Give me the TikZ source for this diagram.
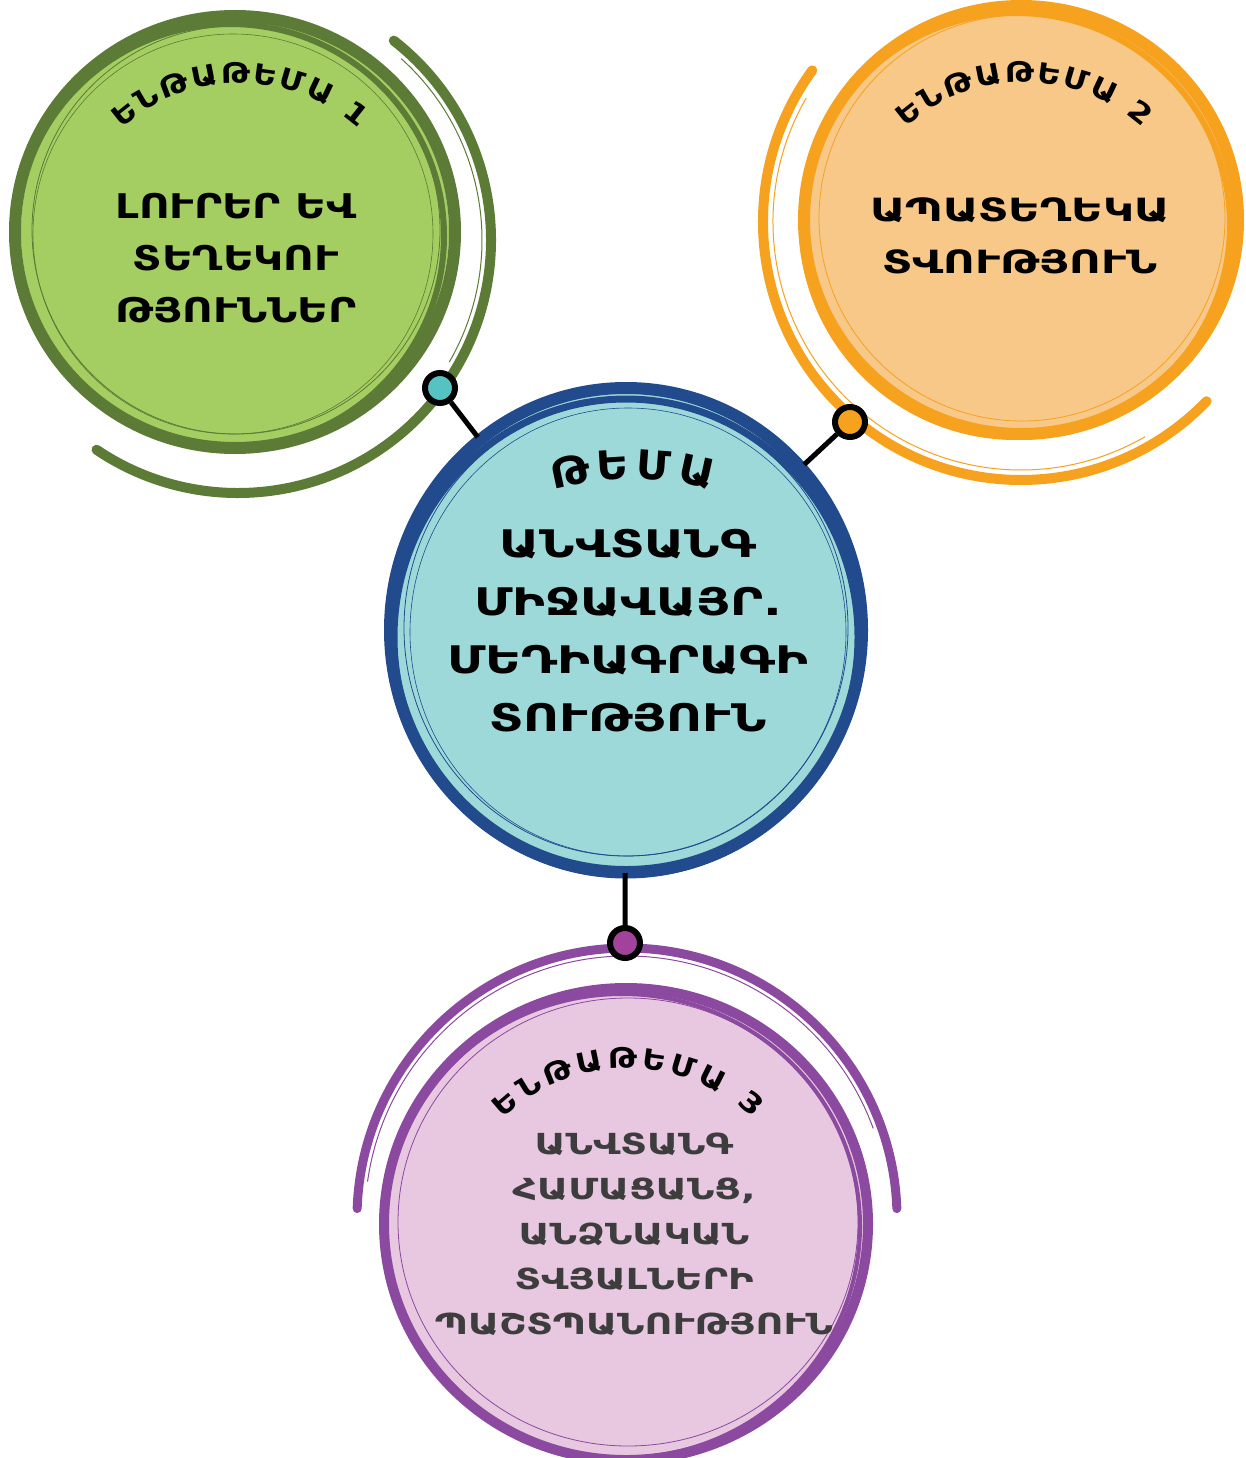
\documentclass[tikz,border=0pt]{standalone}
\usepackage{fontspec}
\setmainfont{DejaVu Sans}
\usetikzlibrary{decorations.text}
\definecolor{gfill}{HTML}{A4CE62}
\definecolor{gring}{HTML}{5C7B36}
\definecolor{ofill}{HTML}{F7C887}
\definecolor{oring}{HTML}{F6A21F}
\definecolor{bfill}{HTML}{9DD9D9}
\definecolor{bring}{HTML}{214B8D}
\definecolor{pfill}{HTML}{E8C8E0}
\definecolor{pring}{HTML}{8B4A9F}
\definecolor{tealdot}{HTML}{55C3C1}
\definecolor{purpdot}{HTML}{A3429A}
\definecolor{ptext}{HTML}{3D3D3D}
\newcommand\hdrfont{\bfseries\fontsize{28}{34}\selectfont\addfontfeature{FakeStretch=1.15}}
\newcommand\themefont{\bfseries\fontsize{40}{46}\selectfont\addfontfeature{FakeStretch=1.1}}
\tikzset{
  ring/.style={line width=12},
  thinring/.style={line width=0.8},
  outerarc/.style={line width=10, line cap=round},
  dotnode/.style={circle, draw=black, line width=6, minimum size=30, inner sep=0},
  conn/.style={draw=black, line width=5},
  gtext/.style={font=\bfseries\fontsize{34}{52}\selectfont\addfontfeature{FakeStretch=1.24}, align=center, text=black},
  otext/.style={font=\bfseries\fontsize{32}{52}\selectfont\addfontfeature{FakeStretch=1.36}, align=center, text=black},
  btext/.style={font=\bfseries\fontsize{38}{58}\selectfont\addfontfeature{FakeStretch=1.3}, align=center, text=black},
  ptext/.style={font=\bfseries\fontsize{29}{45}\selectfont\addfontfeature{FakeStretch=1.32}, align=center, text=ptext},
}
\begin{document}
\begin{tikzpicture}[x=1pt,y=1pt]
\useasboundingbox (0,0) rectangle (1246,-1458);
\fill[white] (0,0) rectangle (1246,-1458);

% ---------- green circle ----------
\fill[gfill] (235,-232) circle[radius=214];
\draw[gring, ring] (235,-232) circle[x radius=220, y radius=216];
\draw[gring, line width=6] (230,-236) circle[x radius=214, y radius=212];
\draw[gring, thinring] (236,-230) circle[radius=204];
\draw[gring, line width=0.6] (233,-234) circle[radius=200];
\draw[gring, outerarc] (238,-240) ++(52:253) arc[start angle=52, end angle=-124, radius=253];
\draw[gring, line width=1] (238,-240) ++(48:244) arc[start angle=48, end angle=-30, radius=244];

% ---------- orange circle ----------
\fill[ofill] (1021,-218) circle[radius=212];
\draw[oring, ring] (1021,-220) circle[x radius=217, y radius=214];
\draw[oring, line width=6] (1016,-225) circle[x radius=214, y radius=212];
\draw[oring, thinring] (1022,-218) circle[radius=203];
\draw[oring, outerarc] (1021,-222) ++(144:258) arc[start angle=144, end angle=316, radius=258];
\draw[oring, line width=1] (1021,-222) ++(150:248) arc[start angle=150, end angle=300, radius=248];

% ---------- purple circle ----------
\fill[pfill] (626,-1224) circle[x radius=238, y radius=232];
\draw[pring, line width=10] (626,-1224) circle[x radius=242, y radius=236];
\draw[pring, line width=4] (622,-1226) circle[x radius=238, y radius=232];
\draw[pring, thinring] (628,-1222) circle[x radius=230, y radius=224];
\draw[pring, outerarc, line width=9] (627,-1218) ++(178:270) arc[start angle=178, end angle=2, radius=270];
\draw[pring, line width=1] (627,-1218) ++(172:262) arc[start angle=172, end angle=20, radius=262];

% ---------- blue centre circle ----------
\fill[bfill] (626,-630) circle[x radius=232, y radius=238];
\draw[bring, ring] (626,-630) circle[x radius=236, y radius=242];
\draw[bring, line width=7] (626,-637) circle[x radius=232, y radius=238];
\draw[bring, thinring] (626,-628) circle[x radius=222, y radius=228];
\draw[bring, line width=0.6] (628,-632) circle[x radius=218, y radius=224];
\node[circle, minimum size=486, inner sep=0] (hub) at (626,-630) {};

% ---------- connectors and dots ----------
\node[dotnode, fill=tealdot] (d1) at (440,-388) {};
\node[dotnode, fill=oring] (d2) at (850,-422) {};
\node[dotnode, fill=purpdot] (d3) at (625,-943) {};
\draw[conn] (d1) -- (hub);
\draw[conn] (d2) -- (hub);
\draw[conn] (d3) -- (hub);

% ---------- curved headers ----------
\path[decorate, decoration={text along path, text={|\hdrfont|ԵՆԹԱԹԵՄԱ 1}, text align={fit to path}}]
  (240,-260) ++(132:177) arc[start angle=132, end angle=48, radius=177];
\path[decorate, decoration={text along path, text={|\hdrfont|ԵՆԹԱԹԵՄԱ 2}, text align={fit to path}}]
  (1024,-259) ++(132:177) arc[start angle=132, end angle=48, radius=177];
\path[decorate, decoration={text along path, text={|\hdrfont|ԵՆԹԱԹԵՄԱ 3}, text align={fit to path}}]
  (628,-1248) ++(134:180) arc[start angle=134, end angle=46, radius=180];
\path[decorate, decoration={text along path, text={|\themefont|ԹԵՄԱ}, text align={fit to path}}]
  (632,-765) ++(106:286) arc[start angle=106, end angle=74, radius=286];

% ---------- texts ----------
\node[gtext] (t1) at (236,-258) {ԼՈՒՐԵՐ ԵՎ\\ՏԵՂԵԿՈՒ\\ԹՅՈՒՆՆԵՐ};
\node[otext] (t2) at (1020,-236) {ԱՊԱՏԵՂԵԿԱ\\ՏՎՈՒԹՅՈՒՆ};
\node[btext] (t3) at (628,-631) {ԱՆՎՏԱՆԳ\\ՄԻՋԱՎԱՅՐ.\\ՄԵԴԻԱԳՐԱԳԻ\\ՏՈՒԹՅՈՒՆ};
\node[ptext] (t4) at (634,-1234) {ԱՆՎՏԱՆԳ\\ՀԱՄԱՑԱՆՑ,\\ԱՆՁՆԱԿԱՆ\\ՏՎՅԱԼՆԵՐԻ\\ՊԱՇՏՊԱՆՈՒԹՅՈՒՆ};
\end{tikzpicture}
\end{document}
